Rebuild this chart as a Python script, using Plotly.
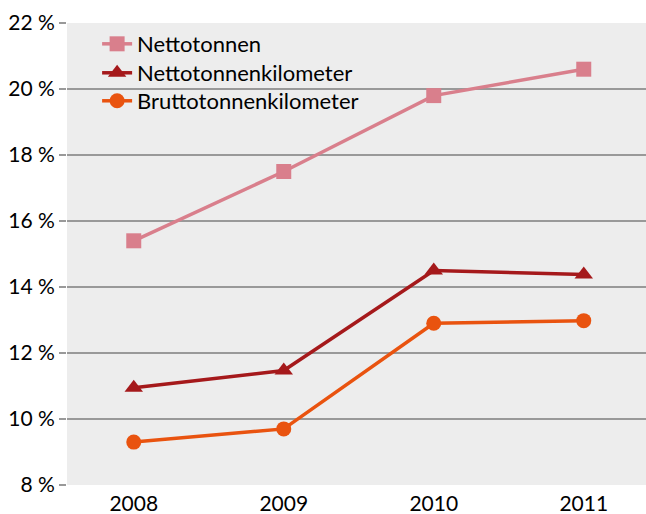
import plotly.graph_objects as go

years = ["2008", "2009", "2010", "2011"]
nettotonnen = [15.4, 17.5, 19.8, 20.6]
nettotonnenkilometer = [10.95, 11.47, 14.5, 14.38]
bruttotonnenkilometer = [9.3, 9.7, 12.9, 12.98]

series = [
    ("Nettotonnen", nettotonnen, "#D97F8C", "square", 15),
    ("Nettotonnenkilometer", nettotonnenkilometer, "#A5191B", "triangle-up", 16),
    ("Bruttotonnenkilometer", bruttotonnenkilometer, "#E9530F", "circle", 15),
]
legend_ids = ["legend", "legend2", "legend3"]
legend_y = [0.9545, 0.8918, 0.8312]

fig = go.Figure()
for (name, vals, col, sym, sz), lid in zip(series, legend_ids):
    fig.add_trace(go.Scatter(
        x=years, y=vals, name=name, mode="lines+markers",
        line=dict(color=col, width=3.5),
        marker=dict(symbol=sym, size=sz, color=col),
        legend=lid,
    ))

font_family = "Lato, 'Open Sans', sans-serif"
layout_legends = {}
for lid, ly in zip(legend_ids, legend_y):
    layout_legends[lid] = dict(
        x=0.052, y=ly, xanchor="left", yanchor="middle",
        bgcolor="rgba(0,0,0,0)", borderwidth=0,
        font=dict(size=22, color="black"),
    )

fig.update_layout(
    width=646, height=514,
    margin=dict(l=67, r=0, t=23, b=29),
    paper_bgcolor="white",
    plot_bgcolor="#EDEDED",
    font=dict(family=font_family, size=21, color="black"),
    showlegend=True,
    xaxis=dict(
        type="category", range=[-0.445, 3.415],
        showgrid=False, zeroline=False, showline=False,
        ticks="", tickfont=dict(size=21), automargin=False,
        ticklabelstandoff=4,
    ),
    yaxis=dict(
        range=[8, 22], dtick=2, tick0=8, ticksuffix=" %",
        showgrid=True, gridcolor="#999999", gridwidth=1.5,
        zeroline=False, showline=False,
        ticks="outside", ticklen=7, tickcolor="#999999", tickwidth=1.5,
        tickfont=dict(size=21), automargin=False,
    ),
    **layout_legends,
)

fig.write_html("out.html", config={"displayModeBar": False},
               post_script="document.body.style.margin='0';")
